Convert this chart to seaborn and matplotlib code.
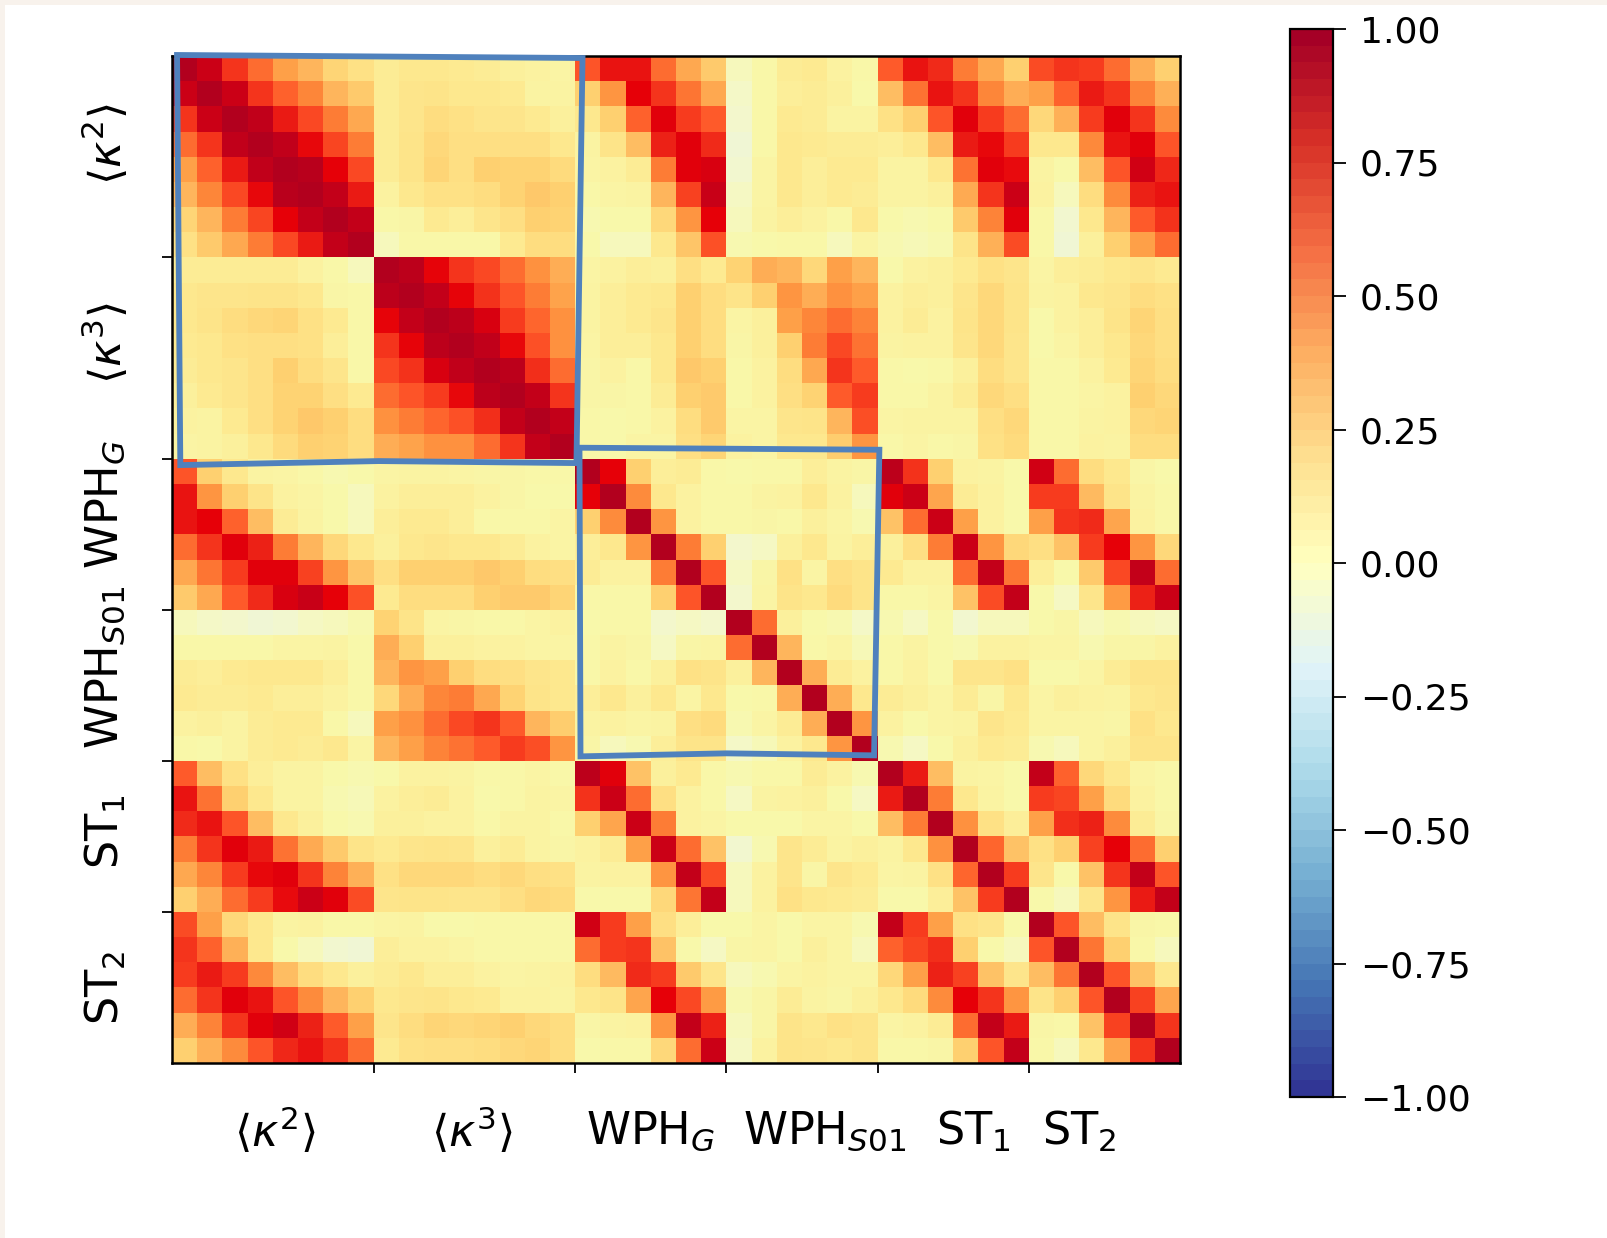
import numpy as np
import pandas as pd
import matplotlib
matplotlib.use("Agg")
import matplotlib.pyplot as plt
from matplotlib.colors import LinearSegmentedColormap, Normalize
from matplotlib.cm import ScalarMappable
from matplotlib.patches import Polygon, Rectangle
import seaborn as sns

# correlation blocks (matrix is symmetric, so upper blocks only)
k2_k2 = [[1.00, .93, .72, .55, .38, .30, .18, .13],
         [.93, 1.00, .93, .72, .58, .47, .30, .22],
         [.72, .93, 1.00, .96, .80, .66, .50, .35],
         [.55, .72, .96, 1.00, .96, .85, .67, .50],
         [.38, .58, .80, .96, 1.00, .98, .87, .66],
         [.30, .47, .66, .85, .98, 1.00, .95, .80],
         [.18, .30, .50, .67, .87, .95, 1.00, .95],
         [.13, .22, .35, .50, .66, .80, .95, 1.00]]
k3_k3 = [[1.00, .97, .86, .72, .66, .55, .43, .33],
         [.97, 1.00, .95, .86, .73, .62, .50, .37],
         [.86, .95, 1.00, .97, .90, .70, .57, .43],
         [.72, .86, .97, 1.00, .96, .85, .63, .43],
         [.66, .73, .90, .96, 1.00, .97, .74, .55],
         [.55, .62, .70, .85, .97, 1.00, .95, .72],
         [.43, .50, .57, .63, .74, .95, 1.00, .95],
         [.33, .37, .43, .43, .55, .72, .95, 1.00]]
k2_k3 = [[.08, .10, .10, .09, .08, .06, .05, .03],
         [.08, .11, .12, .10, .10, .09, .04, .04],
         [.08, .11, .15, .13, .11, .11, .09, .06],
         [.08, .12, .17, .14, .14, .14, .14, .10],
         [.08, .12, .18, .14, .20, .19, .19, .16],
         [.05, .10, .13, .13, .15, .19, .23, .20],
         [.01, .02, .09, .07, .11, .14, .20, .19],
         [-.03, .01, .01, .01, .01, .09, .15, .15]]
k2_wg = [[.62, .82, .82, .55, .35, .22],
         [.20, .42, .87, .72, .52, .35],
         [.10, .20, .58, .88, .70, .60],
         [.04, .12, .27, .78, .88, .75],
         [.03, .05, .08, .50, .88, .90],
         [.01, .03, .04, .30, .68, .94],
         [-.01, .00, .00, .17, .42, .87],
         [.00, -.03, -.03, .10, .24, .63]]
k2_ws = [[-.03, .01, .08, .09, .05, .01],
         [-.05, .01, .07, .08, .06, .00],
         [-.06, .01, .09, .08, .04, .04],
         [-.08, .01, .10, .09, .08, .08],
         [-.07, .03, .10, .07, .09, .09],
         [-.04, .03, .10, .07, .09, .08],
         [-.03, .04, .07, .05, .01, .10],
         [-.01, .00, .01, .01, -.03, .03]]
k2_st1 = [[.60, .82, .75, .50, .35, .20],
          [.27, .53, .82, .72, .47, .33],
          [.13, .20, .62, .88, .70, .55],
          [.07, .10, .27, .80, .85, .70],
          [.04, .04, .10, .53, .88, .84],
          [.04, .04, .06, .34, .72, .93],
          [.00, -.01, .00, .22, .48, .88],
          [-.01, -.02, -.01, .12, .32, .65]]
k2_st2 = [[.65, .72, .70, .55, .33, .20],
          [.38, .58, .80, .72, .48, .32],
          [.17, .32, .70, .88, .72, .45],
          [.10, .10, .46, .82, .88, .62],
          [.04, .00, .27, .62, .92, .76],
          [.05, -.03, .15, .45, .78, .82],
          [.01, -.07, .10, .30, .60, .73],
          [.01, -.08, .06, .20, .38, .55]]
k3_wg = [[.03, .05, .07, .06, .14, .09],
         [.04, .07, .09, .10, .20, .15],
         [.04, .07, .09, .11, .20, .15],
         [.03, .07, .07, .10, .20, .15],
         [.02, .05, .01, .10, .23, .20],
         [.02, .02, .01, .08, .20, .22],
         [.01, .00, .01, .05, .15, .22],
         [.01, .00, .03, .03, .14, .18]]
k3_ws = [[.19, .33, .30, .17, .38, .30],
         [.12, .20, .42, .33, .43, .38],
         [.03, .06, .38, .47, .55, .48],
         [.02, .06, .20, .50, .66, .53],
         [.01, .05, .15, .35, .72, .60],
         [.01, .05, .14, .19, .60, .70],
         [.03, .03, .11, .12, .30, .64],
         [.05, .03, .10, .10, .21, .42]]
k3_st1 = [[.00, .05, .06, .09, .13, .11],
          [.05, .07, .06, .11, .17, .12],
          [.05, .08, .05, .12, .17, .12],
          [.04, .05, .05, .11, .17, .11],
          [.01, .00, .01, .06, .15, .11],
          [.01, .01, .04, .08, .17, .14],
          [.03, .04, .04, .04, .14, .17],
          [.01, .03, .01, .02, .13, .16]]
k3_st2 = [[.03, .07, .08, .10, .11, .09],
          [.04, .05, .10, .11, .15, .13],
          [.00, .05, .07, .12, .18, .14],
          [.00, .03, .07, .10, .17, .14],
          [.01, .01, .05, .09, .18, .15],
          [.01, .01, .03, .05, .20, .17],
          [.01, .01, .04, .05, .17, .18],
          [.01, .01, .05, .04, .15, .15]]
wg_wg = [[1.00, .87, .20, .07, .08, .01],
         [.87, 1.00, .45, .10, .05, .01],
         [.20, .45, 1.00, .42, .05, .01],
         [.07, .10, .42, 1.00, .50, .20],
         [.08, .05, .05, .50, 1.00, .62],
         [.01, .01, .01, .20, .62, 1.00]]
wg_ws = [[.00, .01, .01, .07, .04, .02],
         [.01, .04, .05, .10, .05, -.03],
         [.01, .02, .01, .06, .03, -.01],
         [-.06, -.04, .06, .10, .04, .07],
         [-.04, .02, .13, .03, .14, .12],
         [-.06, .03, .12, .10, .16, .12]]
wg_st1 = [[.97, .73, .20, .05, .04, .00],
          [.88, .93, .36, .08, .05, .00],
          [.25, .55, .93, .38, .05, .00],
          [.06, .14, .50, .93, .42, .17],
          [.09, .05, .05, .55, .95, .52],
          [.01, .01, .03, .25, .65, .95]]
wg_st2 = [[.92, .55, .15, .10, .02, .00],
          [.70, .70, .28, .12, .04, .01],
          [.38, .72, .75, .36, .05, .01],
          [.14, .25, .70, .87, .42, .17],
          [.07, .00, .22, .66, .95, .55],
          [.00, -.04, .11, .40, .78, .93]]
ws_ws = [[1.00, .55, .06, .00, -.01, -.05],
         [.55, 1.00, .30, .01, .03, -.02],
         [.06, .30, 1.00, .33, .08, .05],
         [.00, .01, .33, 1.00, .33, .10],
         [-.01, .03, .08, .33, 1.00, .42],
         [-.05, -.02, .05, .10, .42, 1.00]]
ws_st1 = [[-.01, -.04, .00, -.07, -.03, -.03],
          [.01, .04, .00, -.01, .05, .05],
          [.01, .05, .00, .11, .11, .13],
          [.08, .06, .03, .08, .02, .10],
          [.05, .00, .03, .04, .11, .09],
          [-.01, -.04, .00, .06, .09, .08]]
ws_st2 = [[.00, .02, -.03, -.01, -.03, -.04],
          [.03, .03, -.01, .02, .02, .05],
          [.00, .00, .03, .08, .12, .12],
          [.03, .06, .05, .04, .10, .11],
          [.03, .03, .03, .02, .13, .10],
          [-.01, -.03, .03, .06, .12, .12]]
st1_st1 = [[1.00, .80, .27, .04, .03, .00],
           [.80, 1.00, .50, .10, .04, .00],
           [.27, .50, 1.00, .43, .13, .07],
           [.04, .10, .43, 1.00, .57, .25],
           [.03, .04, .13, .57, 1.00, .70],
           [.00, .00, .07, .25, .70, 1.00]]
st1_st2 = [[.95, .58, .17, .10, .03, .01],
           [.70, .67, .38, .16, .05, .01],
           [.38, .74, .78, .45, .08, .02],
           [.13, .20, .68, .87, .55, .20],
           [.11, .00, .25, .72, .95, .62],
           [.00, -.03, .11, .42, .80, .95]]
st2_st2 = [[1.00, .62, .27, .12, .02, .01],
           [.62, 1.00, .52, .20, .01, -.03],
           [.27, .52, 1.00, .62, .25, .10],
           [.12, .20, .62, 1.00, .68, .36],
           [.02, .01, .25, .68, 1.00, .72],
           [.01, -.03, .10, .36, .72, 1.00]]

group_sizes = [8, 8, 6, 6, 6, 6]
group_labels = [r"$\langle\kappa^2\rangle$", r"$\langle\kappa^3\rangle$", r"WPH$_G$",
                r"WPH$_{S01}$", r"ST$_1$", r"ST$_2$"]
cbar_ticks = [-1, -.75, -.5, -.25, 0, .25, .5, .75, 1]
cbar_labels = ["\u22121.00", "\u22120.75", "\u22120.50", "\u22120.25", "0.00", "0.25", "0.50", "0.75", "1.00"]

# label centres, in cell units (they sit by hand in the original, not on tick midpoints)
x_label_pos = [4.07, 11.9, 18.98, 25.9, 31.8, 36.0]
y_label_pos = [3.5, 11.4, 17.8, 24.3, 30.8, 37.0]

T = np.transpose
corr = np.block([
    [np.array(k2_k2), np.array(k2_k3), np.array(k2_wg), np.array(k2_ws), np.array(k2_st1), np.array(k2_st2)],
    [T(k2_k3), np.array(k3_k3), np.array(k3_wg), np.array(k3_ws), np.array(k3_st1), np.array(k3_st2)],
    [T(k2_wg), T(k3_wg), np.array(wg_wg), np.array(wg_ws), np.array(wg_st1), np.array(wg_st2)],
    [T(k2_ws), T(k3_ws), T(wg_ws), np.array(ws_ws), np.array(ws_st1), np.array(ws_st2)],
    [T(k2_st1), T(k3_st1), T(wg_st1), T(ws_st1), np.array(st1_st1), np.array(st1_st2)],
    [T(k2_st2), T(k3_st2), T(wg_st2), T(ws_st2), T(st1_st2), np.array(st2_st2)],
])
df = pd.DataFrame(corr)

# the cells are painted in a brighter map than the one on the colour bar
heat_stops = [(-1.0, "#313695"), (-.25, "#cfe9ee"), (-.10, "#eef5dc"), (-.05, "#f4f8c8"),
              (.00, "#f8f8aa"), (.05, "#fbf2a0"), (.10, "#fde88e"), (.15, "#fedd80"),
              (.20, "#fed070"), (.30, "#feb55c"), (.40, "#fe9b44"), (.50, "#fd7d35"),
              (.60, "#fe5a2a"), (.70, "#f73c1e"), (.80, "#ea1a14"), (.87, "#e60008"),
              (.93, "#cc0016"), (1.0, "#b2001e")]
heat_cmap = LinearSegmentedColormap.from_list(
    "heat", [((v + 1) / 2, c) for v, c in heat_stops], N=512)

W, H = 1608, 1238
sns.set_theme(style="white")
plt.rcParams["font.family"] = ["DejaVu Sans"]
plt.rcParams["mathtext.fontset"] = "dejavusans"
plt.rcParams["text.color"] = "black"
plt.rcParams["xtick.color"] = "black"
plt.rcParams["ytick.color"] = "black"

fig = plt.figure(figsize=(W / 100, H / 100), dpi=100, facecolor="white")

# beige screenshot edge on top and left
fig.add_artist(Rectangle((0, 1 - 5 / H), 1, 5 / H, transform=fig.transFigure, color="#f8f2ec", lw=0))
fig.add_artist(Rectangle((0, 0), 5 / W, 1, transform=fig.transFigure, color="#f8f2ec", lw=0))

ax = fig.add_axes([172 / W, 1 - 1063 / H, (1180 - 172) / W, (1063 - 56) / H])
sns.heatmap(df, ax=ax, cmap=heat_cmap, vmin=-1, vmax=1, cbar=False, square=False,
            xticklabels=False, yticklabels=False)

edges = np.cumsum(group_sizes)[:-1]
ax.set_xticks(edges)
ax.set_yticks(edges)
ax.set_xticklabels([])
ax.set_yticklabels([])
ax.tick_params(axis="both", length=7.5, width=1.3, color="black", bottom=True, left=True)
for s in ax.spines.values():
    s.set_visible(True)
    s.set_color("black")
    s.set_linewidth(1.8)

for lab, x in zip(group_labels, x_label_pos):
    ax.text(x, 42.7, lab, ha="center", va="center", fontsize=32, color="black", clip_on=False)
for lab, y in zip(group_labels, y_label_pos):
    ax.text(-2.65, y, lab, ha="center", va="center", rotation=90, fontsize=32, color="black", clip_on=False)

# blue hand-drawn boxes
box_color = "#4f81bd"
box_a = [(.2, -.04), (16.29, .08), (16.05, 16.17), (8.2, 16.09), (.33, 16.25)]
box_b = [(16.17, 15.56), (28.07, 15.64), (27.86, 27.78), (22.0, 27.7), (16.21, 27.82)]
for pts in (box_a, box_b):
    ax.add_patch(Polygon(pts, closed=True, fill=False, edgecolor=box_color, lw=4.2,
                         joinstyle="miter", clip_on=False, zorder=5))

cax = fig.add_axes([1290 / W, 1 - 1097 / H, (1333 - 1290) / W, (1097 - 29) / H])
bar = fig.colorbar(ScalarMappable(Normalize(-1, 1), plt.get_cmap("RdYlBu_r", 64)), cax=cax)
bar.set_ticks(cbar_ticks)
bar.set_ticklabels(cbar_labels)
bar.ax.tick_params(length=9.4, width=1.3, labelsize=26, pad=10, right=True, colors="black")
bar.outline.set_edgecolor("black")
bar.outline.set_linewidth(1.6)

fig.savefig("out.png", dpi=100)
